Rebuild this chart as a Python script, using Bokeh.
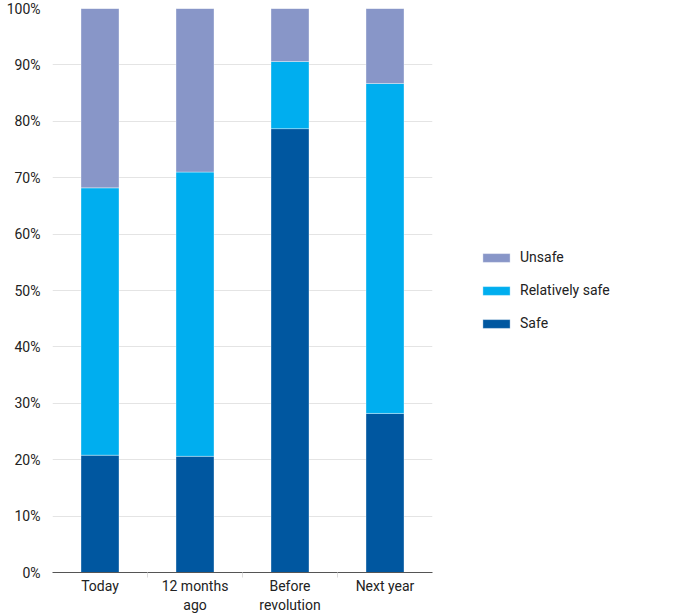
from bokeh.plotting import figure
from bokeh.models import ColumnDataSource, Legend, LegendItem, FixedTicker, Range1d, NumeralTickFormatter
from bokeh.embed import file_html
from bokeh.resources import INLINE

categories = ["Today", "12 months\nago", "Before\nrevolution", "Next year"]
safe = [20.8, 20.6, 78.7, 28.2]
relatively_safe = [47.4, 50.4, 11.9, 58.5]
unsafe = [31.8, 29.0, 9.4, 13.3]
series = ["safe", "relatively_safe", "unsafe"]
labels = ["Safe", "Relatively safe", "Unsafe"]
colors = ["#0057a0", "#00aeef", "#8896c8"]
y_ticks = [0, 10, 20, 30, 40, 50, 60, 70, 80, 90, 100]

xpos = [i + 0.5 for i in range(len(categories))]
source = ColumnDataSource(dict(x=xpos, safe=safe, relatively_safe=relatively_safe, unsafe=unsafe))

FONT = "Roboto"
p = figure(frame_width=380, frame_height=564, output_backend="svg", toolbar_location=None,
           x_range=Range1d(0, len(categories)), y_range=Range1d(0, 100),
           min_border_left=52, min_border_right=10, min_border_top=8, min_border_bottom=0)
p.outline_line_color = None

renderers = p.vbar_stack(series, x="x", width=0.4, source=source, color=colors,
                         line_color="white", line_alpha=0.35, line_width=1)

p.xgrid.grid_line_color = None
p.ygrid.grid_line_color = "#e4e4e4"
p.ygrid.ticker = FixedTicker(ticks=y_ticks)

p.yaxis.ticker = FixedTicker(ticks=y_ticks)
p.yaxis.formatter = NumeralTickFormatter(format="0")
p.yaxis.major_label_overrides = {t: f"{t}%" for t in y_ticks}
p.yaxis.axis_line_color = None
p.yaxis.major_tick_line_color = None
p.yaxis.major_tick_out = 0
p.yaxis.minor_tick_line_color = None
p.yaxis.minor_tick_out = 0
p.yaxis.major_label_standoff = 12
p.yaxis.major_label_text_font = FONT
p.yaxis.major_label_text_font_size = "14px"
p.yaxis.major_label_text_color = "#222222"

p.xaxis.ticker = FixedTicker(ticks=xpos, minor_ticks=list(range(1, len(categories))))
p.xaxis.major_label_overrides = {x: c for x, c in zip(xpos, categories)}
p.xaxis.axis_line_color = "#555555"
p.xaxis.major_tick_line_color = None
p.xaxis.major_tick_out = 0
p.xaxis.minor_tick_line_color = "#dddddd"
p.xaxis.minor_tick_out = 5
p.xaxis.minor_tick_in = 0
p.xaxis.major_label_standoff = 0
p.xaxis.major_label_text_font = FONT
p.xaxis.major_label_text_font_size = "14px"
p.xaxis.major_label_text_color = "#222222"

items = [LegendItem(label=l, renderers=[r]) for l, r in zip(labels, renderers)][::-1]
legend = Legend(items=items, location="left", orientation="vertical", margin=47, padding=10,
                glyph_width=34, glyph_height=11, label_height=20, spacing=13,
                label_standoff=7, label_text_font=FONT, label_text_font_size="14px",
                label_text_color="#222222", border_line_color=None, background_fill_alpha=0)
p.add_layout(legend, "right")

open("out.html", "w").write(file_html(p, INLINE))
